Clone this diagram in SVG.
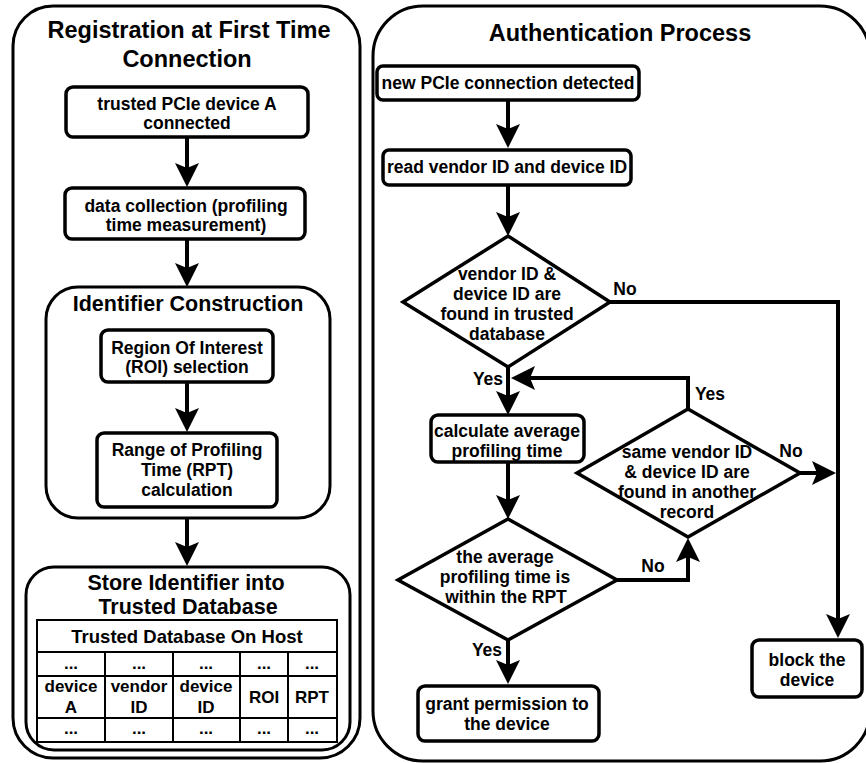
<svg xmlns="http://www.w3.org/2000/svg" width="866" height="763" viewBox="0 0 866 763">
  <style>
    .panel { fill: #ffffff; stroke: #000000; stroke-width: 3; }
    .box { fill: #ffffff; stroke: #000000; stroke-width: 3.5; }
    .dia { fill: #ffffff; stroke: #000000; stroke-width: 3.5; stroke-linejoin: miter; }
    .grid { fill: none; stroke: #000000; stroke-width: 2; }
    .conn { fill: none; stroke: #000000; stroke-width: 4; stroke-linejoin: miter; }
    .arrow { marker-end: url(#head); }
    text { font-family: "Liberation Sans", Arial, Helvetica, sans-serif; font-weight: bold; fill: #000000; text-anchor: middle; }
    .title { font-size: 23.5px; }
    .sub { font-size: 21.5px; }
    .lbl { font-size: 17.5px; }
    .cell { font-size: 17px; }
    .hdr { font-size: 18.5px; }
  </style>
  <defs>
    <marker id="head" markerUnits="userSpaceOnUse" viewBox="-11 -13 26 26" markerWidth="26" markerHeight="26" refX="0" refY="0" orient="auto" overflow="visible">
      <path d="M-10,-12 L14,0 L-10,12 L-5,0 Z" fill="#000000"/>
    </marker>
  </defs>

  <rect width="866" height="763" fill="#ffffff"/>

  <!-- Left panel: registration -->
  <g id="registration-panel">
    <rect class="panel" x="13" y="6" width="347" height="752" rx="40" ry="40"/>
    <text class="title" x="189" y="38">Registration at First Time</text>
    <text class="title" x="187" y="67">Connection</text>
  </g>

  <g id="device-connected">
    <rect class="box" x="66" y="87" width="242" height="50" rx="7"/>
    <text class="lbl" x="187" y="110">trusted PCIe device A</text>
    <text class="lbl" x="187" y="129">connected</text>
  </g>

  <g id="data-collection">
    <rect class="box" x="65" y="188" width="240" height="51" rx="7"/>
    <text class="lbl" x="186" y="212">data collection (profiling</text>
    <text class="lbl" x="186" y="231">time measurement)</text>
  </g>

  <g id="identifier-construction">
    <rect class="panel" x="46" y="287" width="284" height="231" rx="32" ry="32"/>
    <text class="sub" x="188" y="311">Identifier Construction</text>
  </g>

  <g id="roi-selection">
    <rect class="box" x="101" y="330" width="172" height="52" rx="7"/>
    <text class="lbl" x="187" y="354">Region Of Interest</text>
    <text class="lbl" x="187" y="373">(ROI) selection</text>
  </g>

  <g id="rpt-calculation">
    <rect class="box" x="97" y="433" width="180" height="74" rx="7"/>
    <text class="lbl" x="187" y="456">Range of Profiling</text>
    <text class="lbl" x="187" y="476">Time (RPT)</text>
    <text class="lbl" x="187" y="496">calculation</text>
  </g>

  <g id="store-identifier">
    <rect class="panel" x="26" y="567" width="324" height="183" rx="28" ry="28"/>
    <text class="sub" x="186" y="590">Store Identifier into</text>
    <text class="sub" x="188" y="614">Trusted Database</text>
  </g>

  <g id="trusted-database-table">
    <rect class="grid" x="37" y="620" width="300" height="122" stroke-width="2.5"/>
    <line class="grid" x1="37" y1="652" x2="337" y2="652"/>
    <line class="grid" x1="37" y1="676" x2="337" y2="676"/>
    <line class="grid" x1="37" y1="718" x2="337" y2="718"/>
    <line class="grid" x1="105" y1="652" x2="105" y2="742"/>
    <line class="grid" x1="173" y1="652" x2="173" y2="742"/>
    <line class="grid" x1="240" y1="652" x2="240" y2="742"/>
    <line class="grid" x1="288" y1="652" x2="288" y2="742"/>
    <text class="hdr" x="187" y="643">Trusted Database On Host</text>
    <text class="cell" x="71" y="669">...</text>
    <text class="cell" x="139" y="669">...</text>
    <text class="cell" x="206" y="669">...</text>
    <text class="cell" x="264" y="669">...</text>
    <text class="cell" x="312" y="669">...</text>
    <text class="cell" x="71" y="692">device</text>
    <text class="cell" x="71" y="713">A</text>
    <text class="cell" x="139" y="692">vendor</text>
    <text class="cell" x="139" y="713">ID</text>
    <text class="cell" x="206" y="692">device</text>
    <text class="cell" x="206" y="713">ID</text>
    <text class="cell" x="264" y="703">ROI</text>
    <text class="cell" x="312" y="703">RPT</text>
    <text class="cell" x="71" y="734">...</text>
    <text class="cell" x="139" y="734">...</text>
    <text class="cell" x="206" y="734">...</text>
    <text class="cell" x="264" y="734">...</text>
    <text class="cell" x="312" y="734">...</text>
  </g>

  <!-- Right panel: authentication -->
  <g id="authentication-panel">
    <rect class="panel" x="373" y="6" width="497" height="755" rx="50" ry="50"/>
    <text class="title" x="620" y="41">Authentication Process</text>
  </g>

  <g id="new-connection">
    <rect class="box" x="377" y="66" width="262" height="34" rx="6"/>
    <text class="lbl" x="508" y="89">new PCIe connection detected</text>
  </g>

  <g id="read-ids">
    <rect class="box" x="383" y="150" width="248" height="35" rx="6"/>
    <text class="lbl" x="507" y="173">read vendor ID and device ID</text>
  </g>

  <g id="ids-in-database">
    <polygon class="dia" points="508,236 610,302 508,367 403,302"/>
    <text class="lbl" x="507" y="280">vendor ID &amp;</text>
    <text class="lbl" x="507" y="300">device ID are</text>
    <text class="lbl" x="507" y="320">found in trusted</text>
    <text class="lbl" x="507" y="340">database</text>
  </g>

  <g id="average-time">
    <rect class="box" x="431" y="415" width="153" height="47" rx="7"/>
    <text class="lbl" x="507" y="437">calculate average</text>
    <text class="lbl" x="507" y="457">profiling time</text>
  </g>

  <g id="another-record">
    <polygon class="dia" points="688,409 800,473 688,537 577,473"/>
    <text class="lbl" x="687" y="458">same vendor ID</text>
    <text class="lbl" x="687" y="478">&amp; device ID are</text>
    <text class="lbl" x="687" y="498">found in another</text>
    <text class="lbl" x="687" y="518">record</text>
  </g>

  <g id="within-rpt">
    <polygon class="dia" points="508,519 617,580 508,640 398,580"/>
    <text class="lbl" x="505" y="563">the average</text>
    <text class="lbl" x="505" y="583">profiling time is</text>
    <text class="lbl" x="506" y="603">within the RPT</text>
  </g>

  <g id="grant-permission">
    <rect class="box" x="418" y="686" width="181" height="55" rx="7"/>
    <text class="lbl" x="507" y="710">grant permission to</text>
    <text class="lbl" x="507" y="730">the device</text>
  </g>

  <g id="block-device">
    <rect class="box" x="752" y="640" width="110" height="57" rx="7"/>
    <text class="lbl" x="807" y="666">block the</text>
    <text class="lbl" x="807" y="686">device</text>
  </g>

  <!-- Connectors -->
  <g id="connectors">
    <path class="conn arrow" d="M187,137 L187,173"/>
    <path class="conn arrow" d="M187,239 L187,273"/>
    <path class="conn arrow" d="M187,382 L187,418"/>
    <path class="conn arrow" d="M187,518 L187,552"/>

    <path class="conn arrow" d="M508,100 L508,134"/>
    <path class="conn arrow" d="M508,185 L508,222"/>
    <path class="conn arrow" d="M610,302 L838,302 L838,624"/>
    <path class="conn arrow" d="M508,367 L508,401"/>
    <path class="conn arrow" d="M688,409 L688,378 L525,378"/>
    <path class="conn arrow" d="M800,473 L822,473"/>
    <path class="conn arrow" d="M508,462 L508,505"/>
    <path class="conn arrow" d="M617,580 L688,580 L688,552"/>
    <path class="conn arrow" d="M508,640 L508,670"/>

    <text class="lbl" x="625" y="295">No</text>
    <text class="lbl" x="488" y="385">Yes</text>
    <text class="lbl" x="710" y="400">Yes</text>
    <text class="lbl" x="791" y="457">No</text>
    <text class="lbl" x="653" y="572">No</text>
    <text class="lbl" x="487" y="656">Yes</text>
  </g>
</svg>
